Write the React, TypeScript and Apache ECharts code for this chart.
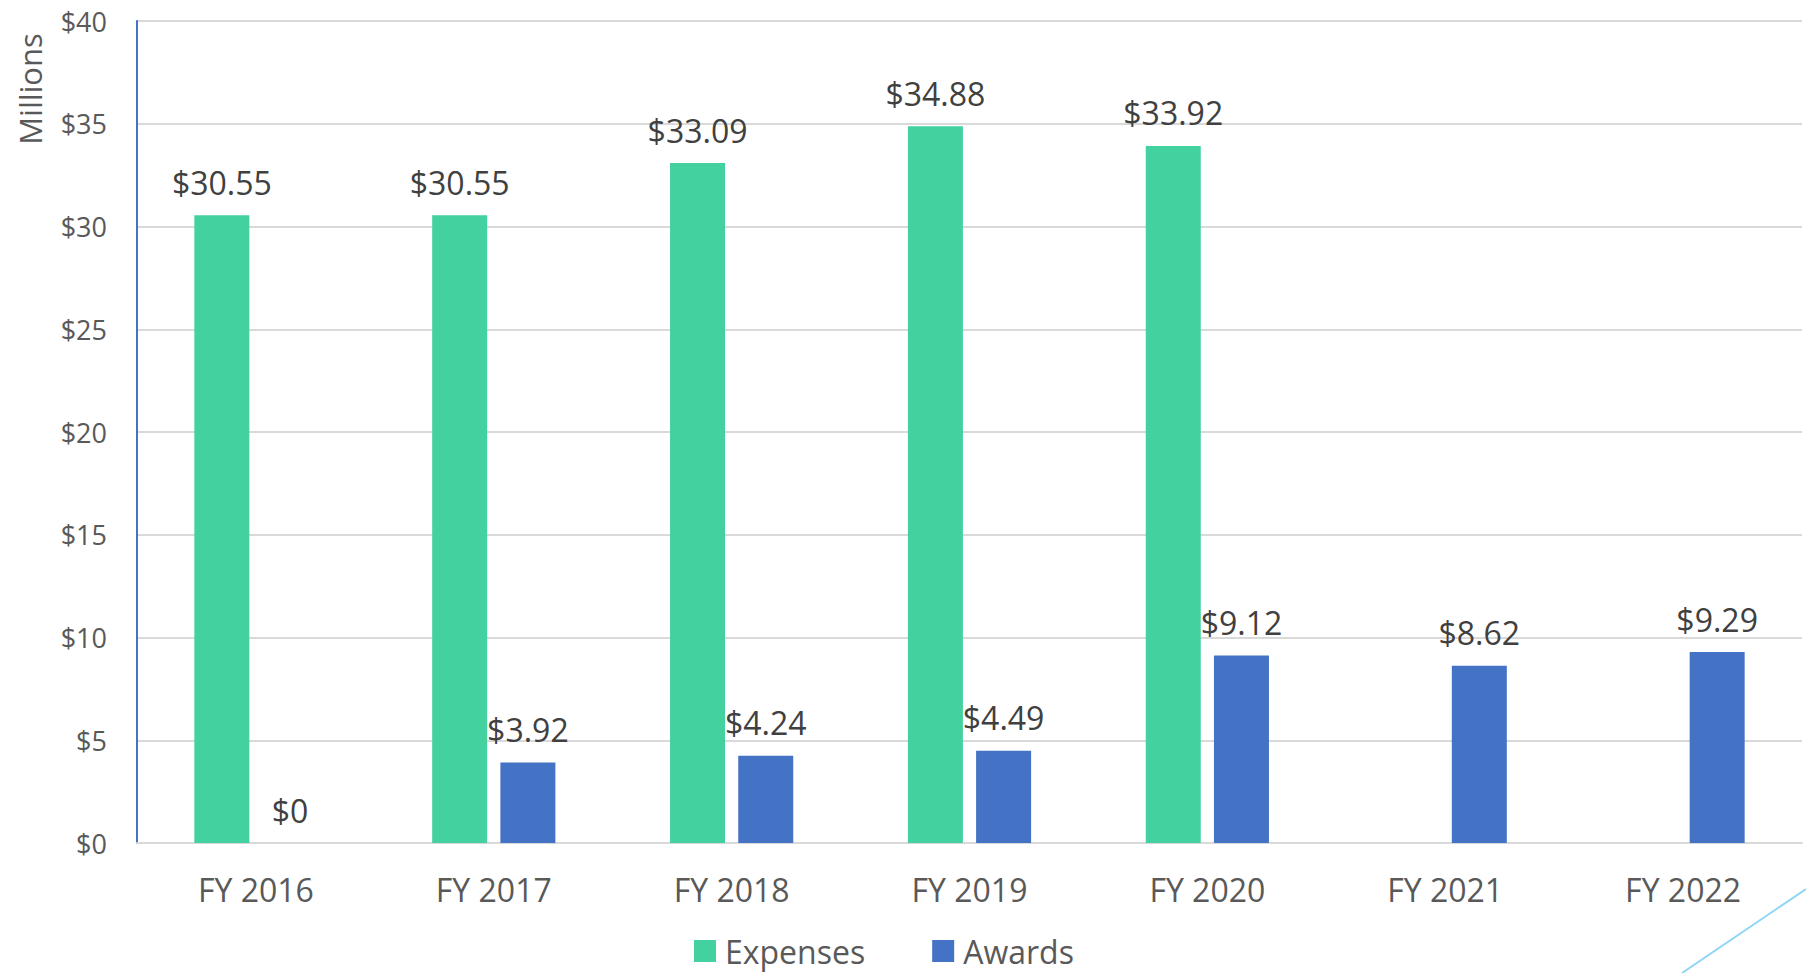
import React, { useEffect, useRef } from "react";
import * as echarts from "echarts";

const categories = ["FY 2016", "FY 2017", "FY 2018", "FY 2019", "FY 2020", "FY 2021", "FY 2022"];
const expenses: (number | null)[] = [30.55, 30.55, 33.09, 34.88, 33.92, null, null];
const awards: number[] = [0, 3.92, 4.24, 4.49, 9.12, 8.62, 9.29];
const yTicks = { min: 0, max: 40, interval: 5 };

const FONT = "'Open Sans', sans-serif";

export default function App() {
  const ref = useRef<HTMLDivElement>(null);
  useEffect(() => {
    if (!ref.current) return;
    const chart = echarts.init(ref.current, undefined, { renderer: "svg" });
    const label = {
      show: true,
      position: "top" as const,
      distance: 17,
      color: "#404040",
      fontSize: 32,
      fontFamily: FONT,
      formatter: (p: any) => "$" + p.value,
    };
    chart.setOption({
      animation: false,
      backgroundColor: "#ffffff",
      textStyle: { fontFamily: FONT },
      grid: { left: 137, right: 4, top: 21, bottom: 130, containLabel: false },
      legend: {
        left: 689,
        top: 930,
        itemWidth: 22,
        itemHeight: 22,
        itemGap: 67,
        icon: "rect",
        textStyle: { fontSize: 32, color: "#595959", fontFamily: FONT, padding: [0, 0, 0, 4] },
        data: ["Expenses", "Awards"],
      },
      xAxis: {
        type: "category",
        data: categories,
        axisLine: { lineStyle: { color: "#d9d9d9", width: 2 } },
        axisTick: { show: false },
        axisLabel: { color: "#595959", fontSize: 32, fontFamily: FONT, margin: 30 },
      },
      yAxis: {
        type: "value",
        min: yTicks.min,
        max: yTicks.max,
        interval: yTicks.interval,
        axisLine: { show: true, lineStyle: { color: "#4472C4", width: 2 } },
        axisTick: { show: false },
        splitLine: { lineStyle: { color: "#d9d9d9", width: 2 } },
        axisLabel: {
          color: "#595959",
          fontSize: 27,
          fontFamily: FONT,
          margin: 30,
          formatter: (v: number) => "$" + v,
        },
      },
      series: [
        {
          name: "Expenses",
          type: "bar",
          data: expenses,
          barWidth: 55,
          barGap: "24%",
          itemStyle: { color: "#43D1A0" },
          label,
        },
        {
          name: "Awards",
          type: "bar",
          data: awards,
          barWidth: 55,
          itemStyle: { color: "#4472C4" },
          label,
        },
      ],
      graphic: [
        {
          type: "text",
          x: 30,
          y: 89,
          rotation: Math.PI / 2,
          style: {
            text: "Millions",
            fill: "#595959",
            fontSize: 31,
            fontFamily: FONT,
            align: "center",
            verticalAlign: "middle",
          },
        },
        {
          type: "line",
          shape: { x1: 1682, y1: 973, x2: 1806, y2: 889 },
          style: { stroke: "#8FD6F5", lineWidth: 2 },
        },
      ],
    });
    return () => chart.dispose();
  }, []);
  return (
    <div
      ref={ref}
      style={{ position: "fixed", left: 0, top: 0, width: 1806, height: 973, background: "#fff" }}
    />
  );
}
